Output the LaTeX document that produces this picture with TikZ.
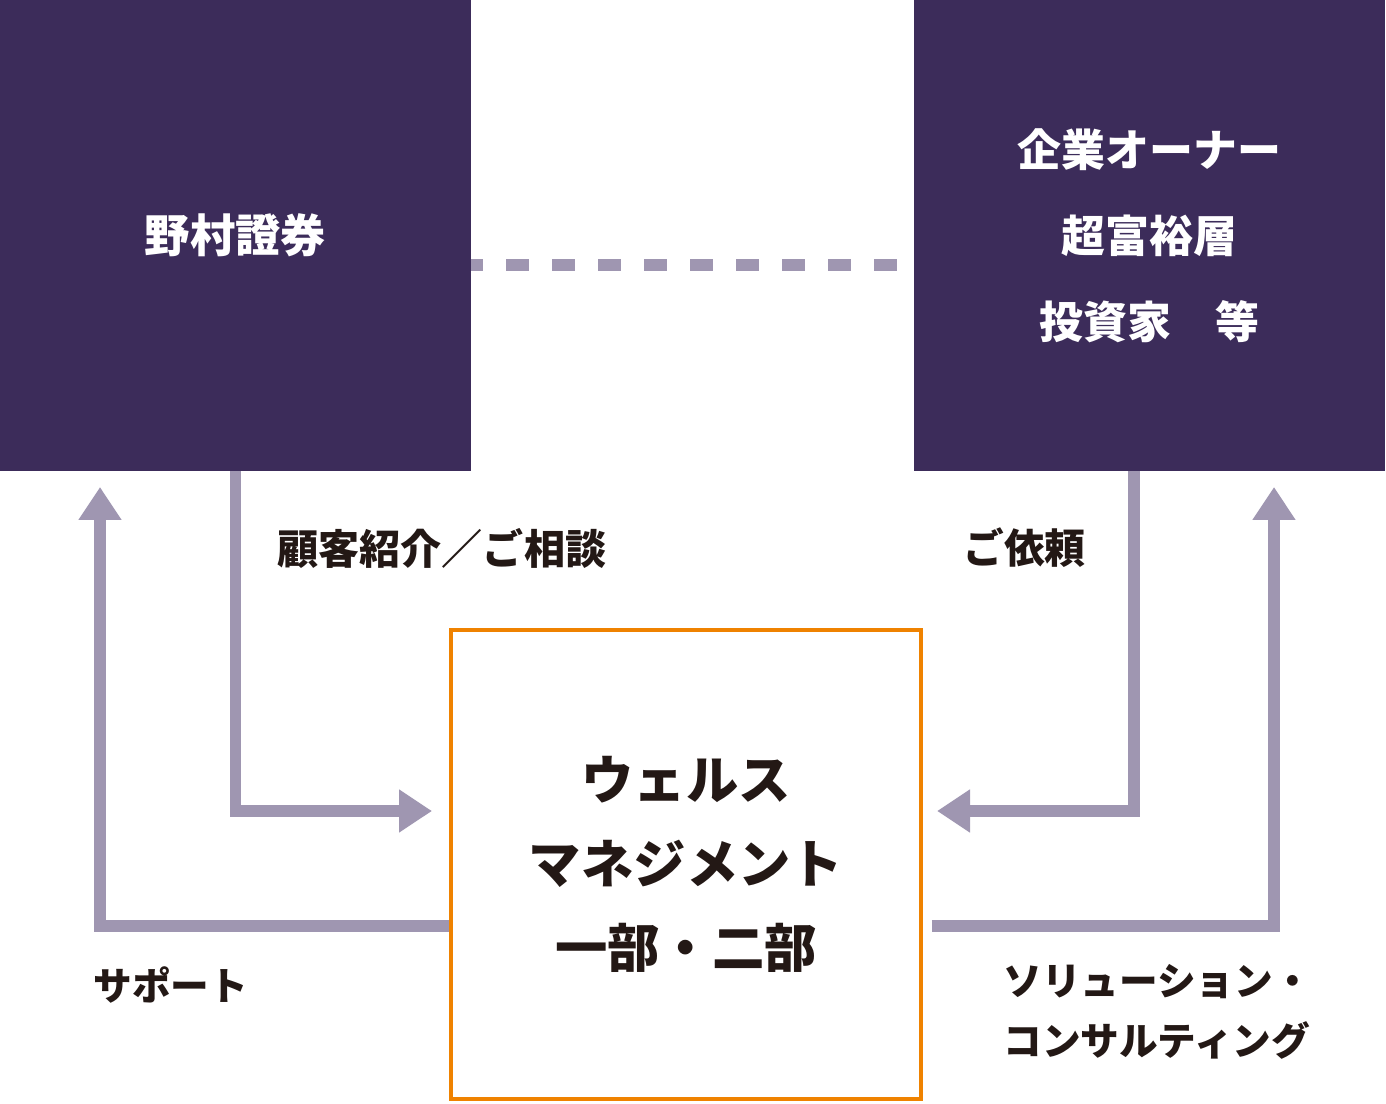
\documentclass[tikz,border=0pt]{standalone}
\usepackage{fontspec}
\newfontfamily\jp{Noto Sans CJK JP}
\usetikzlibrary{arrows.meta}
\definecolor{boxpurple}{HTML}{3C2C5A}
\definecolor{arrowgray}{HTML}{9F96B1}
\definecolor{wmorange}{HTML}{EF8200}
\definecolor{textdark}{HTML}{231815}

\begin{document}
\begin{tikzpicture}[x=0.02cm,y=-0.02cm]
\tikzset{darkbox/.style={fill=boxpurple,minimum width=9.42cm,minimum height=9.42cm,inner sep=0pt,text=white,font=\jp\bfseries\fontsize{25}{49}\selectfont,align=center},
  flow/.style={draw=arrowgray,line width=6.8pt,-{Triangle[length=0.66cm,width=0.82cm]}},
  lbl/.style={text=textdark,font=\jp\bfseries\fontsize{22}{34}\selectfont,inner sep=0pt,anchor=west,align=left}};
\useasboundingbox (0,0) rectangle (1386,1104);
    \node[darkbox,font=\jp\bfseries\fontsize{25.8}{49}\selectfont] (nomura) at (235.5,235.5) {野村證券};
    \node[darkbox] (owner) at (1149.5,235.5) {企業オーナー\\超富裕層\\投資家\quad 等};
    \node[draw=wmorange,line width=2.3pt,minimum width=9.4cm,minimum height=9.4cm,inner sep=0pt,
      text=textdark,font=\jp\bfseries\fontsize{29.8}{48}\selectfont,align=center] (wm) at (686,864.5) {ウェルス\\マネジメント\\一部・二部};
    % dashed link between the two boxes
    \draw[arrowgray,line width=6.8pt,dash pattern=on 0.46cm off 0.46cm,dash phase=0.22cm] (nomura.east |- 0,265) -- ([xshift=-0.3cm]owner.west |- 0,265);
    % arrows into the wealth management box
    \coordinate (inL) at (432,811);
    \coordinate (inR) at (937,811);
    \draw[flow] (nomura.south) |- (inL);
    \draw[flow] ([xshift=-0.31cm]owner.south) |- (inR);
    % arrows back out
    \coordinate (outL) at (100,487);
    \coordinate (outR) at (1274,487);
    \draw[flow] ([yshift=-1.23cm]wm.west) -| (outL);
    \draw[flow] ([xshift=0.18cm,yshift=-1.23cm]wm.east) -| (outR);
    \node[lbl,font=\jp\bfseries\fontsize{23.4}{34}\selectfont] (l1) at (277,548) {顧客紹介／ご相談};
    \node[lbl,font=\jp\bfseries\fontsize{23.2}{34}\selectfont] (l2) at (963,548) {ご依頼};
    \node[lbl] (l3) at (93,985) {サポート};
    \node[lbl,anchor=north west] (l4) at (1003,964) {ソリューション・\\コンサルティング};
\end{tikzpicture}
\end{document}
